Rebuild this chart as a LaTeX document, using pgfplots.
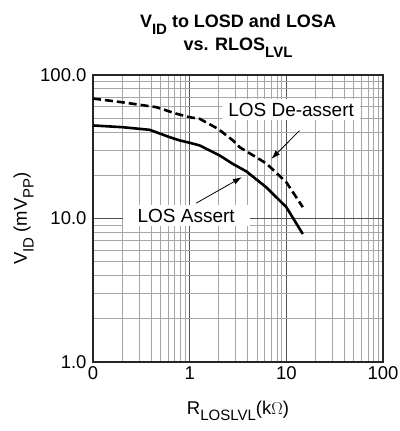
\documentclass[border=0pt]{standalone}
\usepackage{fontspec}
\setmainfont{Liberation Sans}
\usepackage{pgfplots}
\pgfplotsset{compat=1.18}
\usetikzlibrary{arrows.meta}
\newcommand\sub[1]{\raisebox{-0.36em}{\fontsize{15bp}{15bp}\selectfont #1}}
\pgfplotstableread{
x y
0.1 44.5
0.2 43.3
0.385 41.5
0.62 36.9
0.79 35.0
1.0 33.7
1.27 32.3
2.04 27.5
2.8 24.0
3.86 21.3
6.2 16.5
10 12.0
14.8 7.8
}\assertdata
\pgfplotstableread{
x y
0.1 68.5
0.2 64.6
0.45 59.7
0.73 53.7
1.0 50.8
1.27 49.5
1.96 42.2
2.8 35.0
3.29 31.4
6.2 24.2
10 17.9
14.8 12.0
}\deassertdata
\begin{document}
\begin{tikzpicture}[font=\fontsize{18.5bp}{21bp}\selectfont]
\useasboundingbox (-93bp,-69bp) rectangle (307bp,362bp);
\begin{axis}[
  at={(0,0)}, anchor=south west,
  scale only axis, width=290bp, height=287bp,
  xmode=log, ymode=log,
  xmin=0.1, xmax=100, ymin=1, ymax=100,
  xtick={0.1,1,10,100}, xticklabels={0,1,10,100},
  ytick={1,10,100}, yticklabels={1.0,10.0,100.0},
  minor xtick={0.2,0.3,0.4,0.5,0.6,0.7,0.8,0.9,2,3,4,5,6,7,8,9,20,30,40,50,60,70,80,90},
  minor ytick={2,3,4,5,6,7,8,9,20,30,40,50,60,70,80,90},
  grid=both,
  major grid style={draw=black!68, line width=1bp},
  minor grid style={draw=black!35, line width=0.9bp},
  major tick length=0pt, minor tick length=0pt,
  axis line style={line width=1.3bp, draw=black!85},
  xticklabel style={yshift=-1bp},
  yticklabel style={xshift=-3bp},
  xlabel={R\sub{LOSLVL}(k\(\Omega\))},
  ylabel={V\sub{ID} (mV\sub{PP})},
  every axis x label/.style={at={(rel axis cs:0.5,0)}, yshift=-52bp, anchor=base},
  every axis y label/.style={at={(rel axis cs:0,0.5)}, xshift=-66bp, rotate=90, anchor=base},
  clip=false,
]
\addplot[black, line width=2.6bp, line join=round] table {\assertdata};
\addplot[black, line width=2.6bp, dash pattern=on 8bp off 4bp] table {\deassertdata};
\node[fill=white, inner xsep=6bp, inner ysep=4bp, font=\fontsize{19bp}{21bp}\selectfont] at (axis cs:11.2,57.5) {LOS De-assert};
\node[fill=white, inner xsep=15bp, inner ysep=4bp, font=\fontsize{19bp}{21bp}\selectfont] at (axis cs:0.92,10.5) {LOS Assert};
\draw[-{Latex[length=9bp,width=6bp]}, line width=0.8bp] (axis cs:13.7,41) -- (axis cs:7.0,26);
\draw[-{Latex[length=9bp,width=6bp]}, line width=0.8bp] (axis cs:1.17,12.8) -- (axis cs:3.47,19.4);
\end{axis}
\node[anchor=base, font=\fontsize{18bp}{21bp}\selectfont\bfseries] at (145bp,334bp) {V\sub{ID} to LOSD and LOSA};
\node[anchor=base, font=\fontsize{18bp}{21bp}\selectfont\bfseries] at (145bp,311bp) {vs. RLOS\sub{LVL}};
\end{tikzpicture}
\end{document}
